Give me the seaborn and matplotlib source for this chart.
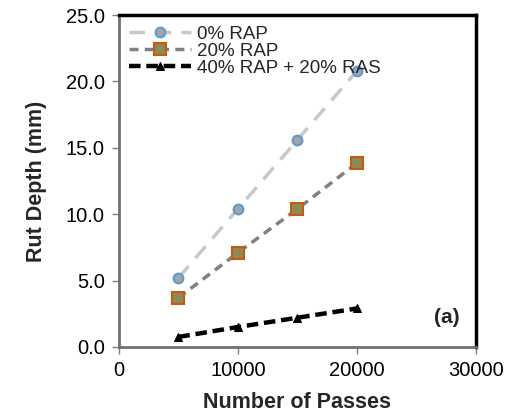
import matplotlib
matplotlib.use("Agg")
import matplotlib.pyplot as plt
import seaborn as sns
import numpy as np

passes = [5000, 10000, 15000, 20000]
rap0 = [5.2, 10.4, 15.6, 20.8]
rap20 = [3.7, 7.1, 10.4, 13.85]
rap40_ras20 = [0.75, 1.5, 2.2, 2.9]
labels = ["0% RAP", "20% RAP", "40% RAP + 20% RAS"]

sns.set_theme(style="white")
plt.rcParams['font.family'] = ['Liberation Sans', 'DejaVu Sans']

fig = plt.figure(figsize=(5.08, 4.2), dpi=100)
ax = fig.add_axes([0.234, 0.174, 0.703, 0.790])

sns.lineplot(x=passes, y=rap0, ax=ax, color="#C8C8C8", lw=2.5, dashes=False,
             label=labels[0], marker="o", markersize=7, markerfacecolor="#A5A5A5",
             markeredgecolor="#5B9BD5", markeredgewidth=1.5)
ax.lines[-1].set_dashes([4.5, 3])
sns.lineplot(x=passes, y=rap20, ax=ax, color="#808080", lw=2.5, dashes=False,
             label=labels[1], marker="s", markersize=9, markerfacecolor="#8E8A55",
             markeredgecolor="#C55A11", markeredgewidth=1.5)
ax.lines[-1].set_dashes([2.6, 1.8])
sns.lineplot(x=passes, y=rap40_ras20, ax=ax, color="black", lw=3.2, dashes=False,
             label=labels[2], marker="^", markersize=6, markerfacecolor="black",
             markeredgecolor="black")
ax.lines[-1].set_dashes([2.6, 1.3])

ax.set_xlim(0, 30000)
ax.set_ylim(0, 25)
ax.set_xticks([0, 10000, 20000, 30000])
ax.set_yticks([0, 5, 10, 15, 20, 25])
ax.set_yticklabels([f"{v:.1f}" for v in [0, 5, 10, 15, 20, 25]])
ax.tick_params(axis="both", direction="out", length=5, width=1, color="#808080",
               labelsize=14.5, labelcolor="black", bottom=True, left=True, pad=5)
ax.set_xlabel("Number of Passes", fontsize=15.5, fontweight="bold", labelpad=9)
ax.set_ylabel("Rut Depth (mm)", fontsize=15.5, fontweight="bold", labelpad=14)

for s in ["top", "right"]:
    ax.spines[s].set_color("black")
    ax.spines[s].set_linewidth(2.5)
for s in ["left", "bottom"]:
    ax.spines[s].set_color("#707070")
    ax.spines[s].set_linewidth(2)

leg = ax.legend(loc="upper left", frameon=False, fontsize=13.5, handlelength=3.3,
                borderaxespad=0.15, labelspacing=0.0, handletextpad=0.3,
                bbox_to_anchor=(0.0, 1.0))
ax.text(0.955, 0.09, "(a)", transform=ax.transAxes, ha="right", va="center",
        fontsize=15, fontweight="bold")

fig.savefig("out.png", dpi=100)
